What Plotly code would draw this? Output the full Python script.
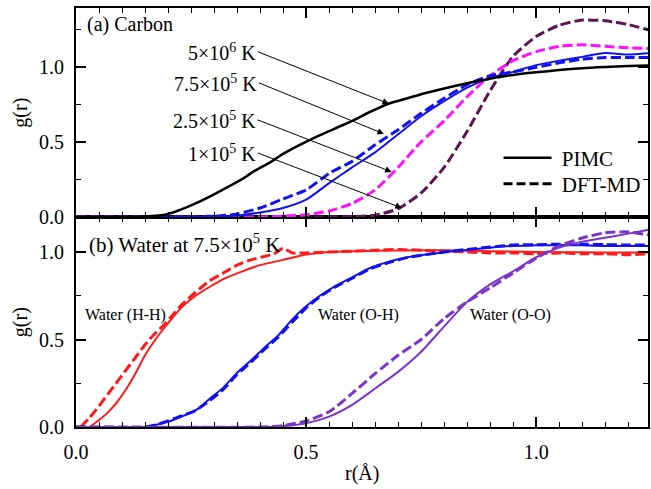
import plotly.graph_objects as go

# ---------------- Top panel: Carbon ----------------
c5e6_x = [0, 0.1, 0.15, 0.19, 0.22, 0.26, 0.3, 0.33, 0.36, 0.39, 0.42, 0.45, 0.48, 0.52, 0.56, 0.6,
          0.64, 0.68, 0.72, 0.76, 0.8, 0.85, 0.9, 0.95, 1.0, 1.05, 1.1, 1.15, 1.2, 1.25]
c5e6_pimc = [0, 0, 0.003, 0.013, 0.04, 0.09, 0.15, 0.20, 0.25, 0.31, 0.36, 0.42, 0.47, 0.53, 0.585, 0.64,
             0.70, 0.755, 0.79, 0.825, 0.855, 0.89, 0.92, 0.945, 0.962, 0.977, 0.99, 0.998, 1.004, 1.008]

c75e5_x = [0, 0.3, 0.35, 0.4, 0.45, 0.5, 0.55, 0.6, 0.65, 0.7, 0.75, 0.8, 0.85, 0.9, 0.95, 1.0,
           1.05, 1.1, 1.15, 1.2, 1.25]
c75e5_pimc = [0, 0.003, 0.01, 0.03, 0.06, 0.115, 0.225, 0.33, 0.43, 0.55, 0.67, 0.77, 0.86, 0.925, 0.965, 1.01,
              1.04, 1.065, 1.09, 1.08, 1.09]
c75e5_dft = [0, 0.005, 0.02, 0.06, 0.12, 0.18, 0.29, 0.37, 0.48, 0.58, 0.69, 0.79, 0.88, 0.94, 0.965, 0.995,
             1.025, 1.05, 1.06, 1.06, 1.06]

c25e5_x = [0, 0.4, 0.45, 0.5, 0.55, 0.6, 0.65, 0.7, 0.75, 0.8, 0.85, 0.9, 0.95, 1.0, 1.05, 1.1,
           1.15, 1.2, 1.25]
c25e5_dft = [0, 0.0, 0.005, 0.015, 0.04, 0.09, 0.18, 0.33, 0.50, 0.64, 0.80, 0.94, 1.04, 1.10, 1.135, 1.145,
             1.135, 1.125, 1.12]

c1e5_x = [0, 0.5, 0.6, 0.65, 0.7, 0.75, 0.8, 0.85, 0.9, 0.95, 1.0, 1.05, 1.1, 1.15, 1.2, 1.25]
c1e5_dft = [0, 0.0, 0.003, 0.012, 0.055, 0.16, 0.33, 0.57, 0.84, 1.07, 1.20, 1.275, 1.31, 1.305, 1.28, 1.24]

# ---------------- Bottom panel: Water at 7.5e5 K ----------------
hh_pimc_x = [0.03, 0.05, 0.07, 0.09, 0.11, 0.13, 0.15, 0.17, 0.19, 0.21, 0.23, 0.26, 0.29, 0.32, 0.36,
             0.4, 0.45, 0.5, 0.55, 0.6, 0.7, 0.8, 0.9, 1.0, 1.1, 1.2, 1.25]
hh_pimc = [0, 0.04, 0.085, 0.145, 0.22, 0.31, 0.41, 0.49, 0.56, 0.625, 0.685, 0.75, 0.80, 0.845, 0.888,
           0.925, 0.955, 0.985, 1.0, 1.005, 1.008, 1.01, 1.005, 1.0, 0.998, 0.997, 0.997]
hh_dft_x = [0.01, 0.03, 0.05, 0.07, 0.09, 0.11, 0.13, 0.15, 0.17, 0.19, 0.21, 0.23, 0.26, 0.29, 0.32,
            0.35, 0.38, 0.41, 0.43, 0.45, 0.47, 0.5, 0.55, 0.6, 0.65, 0.7, 0.75, 0.8, 0.85, 0.9,
            0.95, 1.0, 1.05, 1.1, 1.15, 1.2, 1.25]
hh_dft = [0, 0.055, 0.12, 0.19, 0.26, 0.33, 0.40, 0.47, 0.53, 0.58, 0.64, 0.70, 0.77, 0.835, 0.88,
          0.925, 0.955, 0.975, 0.99, 1.02, 0.995, 0.995, 1.0, 1.005, 1.01, 1.015, 1.01, 1.005, 1.0, 0.995,
          0.995, 0.99, 0.995, 0.99, 0.99, 0.985, 0.99]

oh_x = [0, 0.15, 0.17, 0.2, 0.23, 0.26, 0.29, 0.32, 0.35, 0.38, 0.41, 0.44, 0.47, 0.5, 0.53, 0.56,
        0.6, 0.64, 0.68, 0.72, 0.76, 0.8, 0.85, 0.9, 0.95, 1.0, 1.05, 1.1, 1.15, 1.2, 1.25]
oh_pimc = [0, 0.0, 0.01, 0.03, 0.06, 0.095, 0.16, 0.225, 0.31, 0.38, 0.455, 0.525, 0.615, 0.69, 0.75, 0.80,
           0.855, 0.91, 0.945, 0.97, 0.985, 0.998, 1.012, 1.025, 1.035, 1.038, 1.04, 1.038, 1.035, 1.035, 1.035]
oh_dft = [0, 0.0, 0.01, 0.035, 0.065, 0.095, 0.15, 0.215, 0.30, 0.37, 0.445, 0.515, 0.6, 0.68, 0.745, 0.795,
          0.85, 0.905, 0.94, 0.968, 0.985, 1.0, 1.015, 1.028, 1.04, 1.042, 1.045, 1.045, 1.042, 1.04, 1.04]

oo_x = [0, 0.4, 0.45, 0.5, 0.55, 0.6, 0.65, 0.7, 0.75, 0.8, 0.85, 0.9, 0.95, 1.0, 1.05, 1.1,
        1.15, 1.2, 1.25]
oo_pimc = [0, 0, 0.005, 0.022, 0.059, 0.126, 0.22, 0.315, 0.43, 0.575, 0.715, 0.815, 0.89, 0.97, 1.025, 1.058,
           1.082, 1.105, 1.13]
oo_dft = [0, 0, 0.008, 0.035, 0.087, 0.192, 0.305, 0.41, 0.50, 0.62, 0.715, 0.795, 0.88, 0.965, 1.035, 1.08,
          1.11, 1.115, 1.095]

x_ticks = [0, 0.5, 1.0]
x_ticktext = ["0.0", "0.5", "1.0"]
y_ticks = [0, 0.5, 1.0]
y_ticktext = ["0.0", "0.5", "1.0"]

FONT = "Liberation Serif, Times New Roman, serif"
DASH = "10px,4px"

fig = go.Figure()

def add(x, y, color, dash, width, xa, ya):
    fig.add_trace(go.Scatter(x=x, y=y, mode="lines", xaxis=xa, yaxis=ya, showlegend=False,
                             line=dict(color=color, width=width, dash=dash, shape="spline", smoothing=0.6)))

# top panel
add(c1e5_x, c1e5_dft, "#5E1450", DASH, 3, "x2", "y2")
add(c25e5_x, c25e5_dft, "#FF10FF", DASH, 3, "x2", "y2")
add(c75e5_x, c75e5_dft, "#1010F0", DASH, 3, "x2", "y2")
add(c75e5_x, c75e5_pimc, "#1010F0", "solid", 2, "x2", "y2")
add(c5e6_x, c5e6_pimc, "black", "solid", 2.5, "x2", "y2")

# bottom panel
add(hh_dft_x, hh_dft, "#FF1A1A", DASH, 3, "x", "y")
add(hh_pimc_x, hh_pimc, "#FF1A1A", "solid", 2, "x", "y")
add(oh_x, oh_dft, "#1010F0", DASH, 3, "x", "y")
add(oh_x, oh_pimc, "#1010F0", "solid", 2, "x", "y")
add(oo_x, oo_dft, "#7B35C8", DASH, 3, "x", "y")
add(oo_x, oo_pimc, "#7B35C8", "solid", 2, "x", "y")

# legend entries (each in its own legend for precise placement)
fig.add_trace(go.Scatter(x=[None], y=[None], mode="lines", name=" PIMC", xaxis="x2", yaxis="y2",
                         legend="legend", line=dict(color="black", width=2.5)))
fig.add_trace(go.Scatter(x=[None], y=[None], mode="lines", name=" DFT-MD", xaxis="x2", yaxis="y2",
                         legend="legend2", line=dict(color="black", width=3, dash="9px,4px")))

split = 210 / 419
axis_common = dict(showline=True, linewidth=2, linecolor="black", mirror="ticks", ticks="inside",
                   ticklen=10, tickwidth=1.5, tickcolor="black", showgrid=False, zeroline=False,
                   tickfont=dict(family=FONT, size=20, color="black"))
minor_x = dict(dtick=0.05, tick0=0, ticks="inside", ticklen=5, tickwidth=1.2, tickcolor="black")
minor_y = dict(dtick=0.25, tick0=0, ticks="inside", ticklen=5, tickwidth=1.2, tickcolor="black")
leg_common = dict(x=(500 - 76) / 574, xanchor="left", yanchor="middle", bgcolor="rgba(0,0,0,0)",
                  font=dict(family=FONT, size=21, color="black"), itemwidth=48)

fig.update_layout(
    width=651, height=489,
    margin=dict(l=76, r=1, t=8, b=62),
    plot_bgcolor="white", paper_bgcolor="white",
    font=dict(family=FONT, size=20, color="black"),
    xaxis=dict(**axis_common, domain=[0, 1], range=[0, 1.243], anchor="y",
               tickvals=x_ticks, ticktext=x_ticktext, ticklabelstandoff=6, minor=minor_x),
    xaxis2=dict(**axis_common, domain=[0, 1], range=[0, 1.243], anchor="y2", matches="x",
                tickvals=x_ticks, showticklabels=False, minor=minor_x),
    yaxis=dict(**axis_common, domain=[0, split], range=[0, 1.2], anchor="x",
               tickvals=y_ticks, ticktext=y_ticktext, ticklabelstandoff=6, minor=minor_y),
    yaxis2=dict(**axis_common, domain=[split, 1], range=[0, 1.39], anchor="x2",
                tickvals=y_ticks, ticktext=y_ticktext, ticklabelstandoff=6, minor=minor_y),
    legend=dict(**leg_common, y=(427 - 158) / 419),
    legend2=dict(**leg_common, y=(427 - 184) / 419),
)

ann = []
# temperature labels with arrows (tip positions in data coords, tail offsets in px)
temp_labels = ["5×10<sup>6</sup> K", "7.5×10<sup>5</sup> K", "2.5×10<sup>5</sup> K", "1×10<sup>5</sup> K"]
tips_x = [0.680, 0.669, 0.686, 0.708]
tips_y = [0.753, 0.553, 0.300, 0.060]
offs = [(-131, -52), (-125, -51), (-134, -52), (-144, -55)]
for t, tx, ty, (axp, ayp) in zip(temp_labels, tips_x, tips_y, offs):
    ann.append(dict(x=tx, y=ty, xref="x2", yref="y2", text=t, showarrow=True, ax=axp, ay=ayp,
                    xanchor="right", yanchor="middle", arrowhead=2, arrowsize=1.3, arrowwidth=1,
                    arrowcolor="black", font=dict(family=FONT, size=20, color="black")))

ann.append(dict(x=(85 - 76) / 574, y=(427 - 25) / 419, xref="paper", yref="paper", text="(a) Carbon",
                showarrow=False, xanchor="left", yanchor="middle", font=dict(family=FONT, size=20)))
ann.append(dict(x=(87 - 76) / 574, y=(427 - 243) / 419, xref="paper", yref="paper",
                text="(b) Water at 7.5×10<sup>5</sup> K",
                showarrow=False, xanchor="left", yanchor="middle", font=dict(family=FONT, size=21)))

for txt, xx in [("Water (H-H)", 0.015), ("Water (O-H)", 0.522), ("Water (O-O)", 0.851)]:
    ann.append(dict(x=xx, y=0.64, xref="x", yref="y", text=txt, showarrow=False,
                    xanchor="left", yanchor="middle", font=dict(family=FONT, size=16)))

# axis titles
for yc in [(427 - 112.5) / 419, (427 - 322) / 419]:
    ann.append(dict(x=(20 - 76) / 574, y=yc, xref="paper", yref="paper", text="g(r)", textangle=-90,
                    showarrow=False, xanchor="center", yanchor="middle", font=dict(family=FONT, size=20)))
ann.append(dict(x=0.5, y=(427 - 473) / 419, xref="paper", yref="paper", text="r(Å)",
                showarrow=False, xanchor="center", yanchor="middle", font=dict(family=FONT, size=20)))

fig.update_layout(annotations=ann)
fig.write_html("out.html")
